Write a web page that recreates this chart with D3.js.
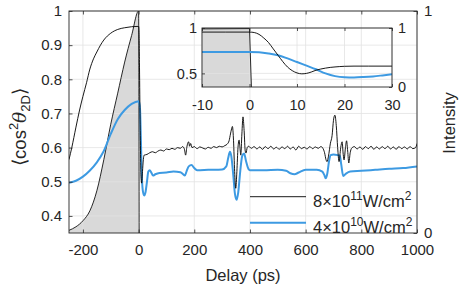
<!DOCTYPE html>
<html>
<head>
<meta charset="utf-8">
<script src="https://cdn.jsdelivr.net/npm/d3@7"></script>
<style>
body { margin: 0; background: #fff; }
text { font-family: "Liberation Sans", Arial, sans-serif; fill: #262626; }
</style>
</head>
<body>
<svg id="chart" width="463" height="289"></svg>
<script>
// ---- data ----
// pump intensity (gray, right axis)
var pulseT = [-250, -225, -200, -175, -150, -125, -100, -75, -50, -25, 0, 2];
var pulseI = [0.012, 0.028, 0.055, 0.10, 0.19, 0.33, 0.49, 0.63, 0.77, 0.89, 1.0, 0];

// 8x10^11 W/cm^2 (black)
var blackT = [-250, -240, -225, -212, -200, -187, -175, -162, -150, -137, -125, -100, -75, -50, -25, 0,
  1, 3, 5, 7, 9, 11, 14, 17, 20, 30, 40, 50, 60, 70, 80, 90, 100, 110, 120, 130, 140, 150, 158, 164, 169, 173, 177, 180, 183, 187, 192,
  200, 210, 220, 230, 240, 250, 260, 270, 280, 290, 300, 310, 318, 325, 330, 334, 337, 341, 345, 349, 353, 357, 361, 364, 367, 371, 375, 379, 383, 386, 390, 395,
  405, 415, 425, 435, 445, 455, 465, 475, 485, 495, 505, 515, 525, 535, 545, 555, 565, 575, 585, 595, 605, 615, 625, 635, 645, 655, 662, 668, 673, 677, 682, 689, 695,
  700, 705, 710, 715, 720, 726, 731, 735, 738, 743, 747, 751, 755, 760, 765, 775, 785, 795, 805, 815, 825, 835, 845, 855, 865, 875, 885, 895, 905, 915, 925, 935, 945, 955, 965, 975, 985, 995, 1000];
var blackV = [0.565, 0.60, 0.66, 0.71, 0.75, 0.79, 0.83, 0.86, 0.88, 0.90, 0.915, 0.935, 0.946, 0.951, 0.954, 0.955,
  0.95, 0.85, 0.70, 0.58, 0.51, 0.496, 0.53, 0.565, 0.578, 0.58, 0.585, 0.588, 0.585, 0.59, 0.593, 0.59, 0.596, 0.594, 0.598, 0.595, 0.60, 0.598, 0.603, 0.597, 0.578, 0.60, 0.614, 0.617, 0.604, 0.612, 0.60,
  0.603, 0.597, 0.602, 0.599, 0.596, 0.601, 0.598, 0.603, 0.60, 0.604, 0.602, 0.606, 0.61, 0.62, 0.64, 0.655, 0.662, 0.62, 0.53, 0.481, 0.53, 0.60, 0.622, 0.60, 0.578, 0.64, 0.69, 0.65, 0.59, 0.584, 0.60, 0.604,
  0.598, 0.603, 0.596, 0.602, 0.595, 0.603, 0.597, 0.604, 0.596, 0.601, 0.595, 0.602, 0.597, 0.604, 0.596, 0.602, 0.593, 0.604, 0.597, 0.601, 0.596, 0.603, 0.597, 0.602, 0.598, 0.603, 0.598, 0.585, 0.565, 0.559, 0.575, 0.613, 0.635,
  0.68, 0.695, 0.665, 0.60, 0.559, 0.60, 0.617, 0.58, 0.564, 0.60, 0.62, 0.59, 0.555, 0.585, 0.598, 0.603, 0.596, 0.602, 0.595, 0.603, 0.597, 0.604, 0.595, 0.602, 0.596, 0.603, 0.597, 0.604, 0.596, 0.602, 0.595, 0.603, 0.597, 0.602, 0.596, 0.603, 0.597, 0.60, 0.612];

// 4x10^10 W/cm^2 (blue)
var blueT = [-250, -225, -200, -175, -150, -125, -100, -75, -50, -25, 0,
  2, 5, 8, 11, 15, 20, 25, 30, 35, 40, 45, 52, 60, 75, 100, 125, 150, 160, 166, 172, 180, 190, 200, 210, 250, 300, 315, 322, 328, 333, 340, 346, 352, 358, 365, 372, 379, 386, 395,
  400, 450, 500, 530, 545, 560, 575, 600, 640, 660, 667, 672, 678, 684, 690, 700, 715, 723, 728, 735, 745, 760, 800, 850, 900, 950, 1000];
var blueV = [0.497, 0.503, 0.515, 0.533, 0.557, 0.59, 0.64, 0.683, 0.71, 0.728, 0.736,
  0.733, 0.715, 0.63, 0.53, 0.475, 0.46, 0.47, 0.50, 0.53, 0.534, 0.528, 0.518, 0.522, 0.526, 0.527, 0.53, 0.528, 0.522, 0.518, 0.53, 0.545, 0.549, 0.54, 0.534, 0.535, 0.536, 0.545, 0.57, 0.588, 0.575, 0.52, 0.465, 0.447, 0.47, 0.53, 0.575, 0.583, 0.56, 0.537,
  0.534, 0.534, 0.535, 0.532, 0.525, 0.522, 0.527, 0.535, 0.535, 0.53, 0.52, 0.51, 0.525, 0.56, 0.578, 0.58, 0.578, 0.576, 0.55, 0.517, 0.524, 0.53, 0.532, 0.535, 0.538, 0.54, 0.545];

// inset (-10 .. 30 ps)
var insetPulseT = [-10, 0, 0.4];
var insetPulseI = [0.985, 0.99, 0];
var insetBlackT = [-10, -5, 0, 1, 2, 3, 4, 5, 6, 7, 8, 9, 10, 11, 12, 13, 14, 15, 16, 17, 18, 19, 20, 22, 25, 30];
var insetBlackV = [0.955, 0.955, 0.955, 0.95, 0.93, 0.89, 0.84, 0.77, 0.70, 0.63, 0.57, 0.53, 0.505, 0.495, 0.50, 0.515, 0.535, 0.548, 0.558, 0.566, 0.571, 0.575, 0.578, 0.58, 0.58, 0.58];
var insetBlueT = [-10, 0, 2, 4, 6, 8, 10, 12, 14, 16, 18, 20, 22, 24, 26, 28, 30];
var insetBlueV = [0.736, 0.736, 0.733, 0.72, 0.70, 0.665, 0.625, 0.585, 0.545, 0.50, 0.47, 0.458, 0.456, 0.46, 0.467, 0.478, 0.49];

var xTicks = [-200, 0, 200, 400, 600, 800, 1000];
var yTicks = [0.4, 0.5, 0.6, 0.7, 0.8, 0.9, 1];
var inXTicks = [-10, 0, 10, 20, 30];
var inYTicks = [0.5, 1];
var intTicks = [0, 1];

var legendLabels = [["8\u00d710", "11", "W/cm", "2"], ["4\u00d710", "10", "W/cm", "2"]];
var blue = "#3d9ae2";
var axisColor = "#262626";
var gridColor = "#e2e2e2";

function zip(t, v) { return t.map(function (d, i) { return [d, v[i]]; }); }

var svg = d3.select("#chart");

// ---- main axes ----
var x = d3.scaleLinear().domain([-250, 1000]).range([69, 417]);
var y = d3.scaleLinear().domain([0.35, 1]).range([233, 11]);
var yI = d3.scaleLinear().domain([0, 1]).range([233, 11]);

svg.append("clipPath").attr("id", "mainClip").append("rect")
  .attr("x", 69).attr("y", 11).attr("width", 348).attr("height", 222);

// pulse fill
svg.append("path")
  .datum(zip(pulseT, pulseI))
  .attr("clip-path", "url(#mainClip)")
  .attr("fill", "#d9d9d9")
  .attr("d", d3.area().x(function (d) { return x(d[0]); }).y0(yI(0)).y1(function (d) { return yI(d[1]); }).curve(d3.curveMonotoneX));

// grid
svg.append("g").selectAll("line").data(xTicks).enter().append("line")
  .attr("x1", function (d) { return x(d); }).attr("x2", function (d) { return x(d); })
  .attr("y1", 11).attr("y2", 233).attr("stroke", gridColor).attr("stroke-width", 0.8);
svg.append("g").selectAll("line").data(yTicks).enter().append("line")
  .attr("y1", function (d) { return y(d); }).attr("y2", function (d) { return y(d); })
  .attr("x1", 69).attr("x2", 417).attr("stroke", gridColor).attr("stroke-width", 0.8);

// pulse outline
svg.append("path")
  .datum(zip(pulseT, pulseI))
  .attr("clip-path", "url(#mainClip)")
  .attr("fill", "none").attr("stroke", "#111").attr("stroke-width", 0.9)
  .attr("d", d3.line().x(function (d) { return x(d[0]); }).y(function (d) { return yI(d[1]); }).curve(d3.curveMonotoneX));

var lineMain = d3.line().x(function (d) { return x(d[0]); }).y(function (d) { return y(d[1]); }).curve(d3.curveMonotoneX);

svg.append("path").datum(zip(blueT, blueV))
  .attr("clip-path", "url(#mainClip)")
  .attr("fill", "none").attr("stroke", blue).attr("stroke-width", 2)
  .attr("d", lineMain);
svg.append("path").datum(zip(blackT, blackV))
  .attr("clip-path", "url(#mainClip)")
  .attr("fill", "none").attr("stroke", "#000").attr("stroke-width", 0.9)
  .attr("d", lineMain);

function styleAxis(g, size) {
  g.select(".domain").remove();
  g.selectAll(".tick line").attr("stroke", axisColor).attr("stroke-width", 0.8);
  g.selectAll(".tick text").attr("font-size", size).attr("fill", axisColor)
    .style("font-family", '"Liberation Sans", Arial, sans-serif');
}
var fmt = function (d) { return String(+d.toFixed(2)); };

svg.append("g").attr("transform", "translate(0,233)")
  .call(d3.axisBottom(x).tickValues(xTicks).tickSize(-3.5).tickPadding(11).tickFormat(fmt))
  .call(styleAxis, 15);
svg.append("g").attr("transform", "translate(0,11)")
  .call(d3.axisTop(x).tickValues(xTicks).tickSize(-3.5).tickFormat(""))
  .call(styleAxis, 15);
svg.append("g").attr("transform", "translate(69,0)")
  .call(d3.axisLeft(y).tickValues(yTicks).tickSize(-3.5).tickPadding(7).tickFormat(fmt))
  .call(styleAxis, 15);
svg.append("g").attr("transform", "translate(417,0)")
  .call(d3.axisRight(yI).tickValues(intTicks).tickSize(-3.5).tickPadding(7).tickFormat(fmt))
  .call(styleAxis, 15);

svg.append("rect").attr("x", 69).attr("y", 11).attr("width", 348).attr("height", 222)
  .attr("fill", "none").attr("stroke", axisColor).attr("stroke-width", 0.9);

// ---- inset ----
var ix = d3.scaleLinear().domain([-10, 30]).range([202, 392]);
var iy = d3.scaleLinear().domain([0.35, 1]).range([87, 28]);
var iI = d3.scaleLinear().domain([0, 1]).range([87, 28]);

svg.append("clipPath").attr("id", "insetClip").append("rect")
  .attr("x", 202).attr("y", 28).attr("width", 190).attr("height", 59);

svg.append("path").datum(zip(insetPulseT, insetPulseI))
  .attr("clip-path", "url(#insetClip)")
  .attr("fill", "#d9d9d9")
  .attr("d", d3.area().x(function (d) { return ix(d[0]); }).y0(iI(0)).y1(function (d) { return iI(d[1]); }));

svg.append("g").selectAll("line").data(inXTicks).enter().append("line")
  .attr("x1", function (d) { return ix(d); }).attr("x2", function (d) { return ix(d); })
  .attr("y1", 28).attr("y2", 87).attr("stroke", gridColor).attr("stroke-width", 0.8);
svg.append("g").selectAll("line").data(inYTicks).enter().append("line")
  .attr("y1", function (d) { return iy(d); }).attr("y2", function (d) { return iy(d); })
  .attr("x1", 202).attr("x2", 392).attr("stroke", gridColor).attr("stroke-width", 0.8);

svg.append("path").datum(zip(insetPulseT, insetPulseI))
  .attr("clip-path", "url(#insetClip)")
  .attr("fill", "none").attr("stroke", "#111").attr("stroke-width", 0.9)
  .attr("d", d3.line().x(function (d) { return ix(d[0]); }).y(function (d) { return iI(d[1]); }));

var lineInset = d3.line().x(function (d) { return ix(d[0]); }).y(function (d) { return iy(d[1]); }).curve(d3.curveMonotoneX);
svg.append("path").datum(zip(insetBlueT, insetBlueV))
  .attr("clip-path", "url(#insetClip)")
  .attr("fill", "none").attr("stroke", blue).attr("stroke-width", 2)
  .attr("d", lineInset);
svg.append("path").datum(zip(insetBlackT, insetBlackV))
  .attr("clip-path", "url(#insetClip)")
  .attr("fill", "none").attr("stroke", "#000").attr("stroke-width", 0.9)
  .attr("d", lineInset);

svg.append("g").attr("transform", "translate(0,87)")
  .call(d3.axisBottom(ix).tickValues(inXTicks).tickSize(-3).tickPadding(13).tickFormat(fmt))
  .call(styleAxis, 14.5);
svg.append("g").attr("transform", "translate(0,28)")
  .call(d3.axisTop(ix).tickValues(inXTicks).tickSize(-3).tickFormat(""))
  .call(styleAxis, 14.5);
svg.append("g").attr("transform", "translate(202,0)")
  .call(d3.axisLeft(iy).tickValues(inYTicks).tickSize(-3).tickPadding(5).tickFormat(fmt))
  .call(styleAxis, 14.5);
svg.append("g").attr("transform", "translate(392,0)")
  .call(d3.axisRight(iI).tickValues(intTicks).tickSize(-3).tickPadding(6).tickFormat(fmt))
  .call(styleAxis, 14.5);

svg.append("rect").attr("x", 202).attr("y", 28).attr("width", 190).attr("height", 59)
  .attr("fill", "none").attr("stroke", axisColor).attr("stroke-width", 0.9);

// ---- legend ----
var legY = [196.7, 222.7];
var legColors = ["#000", blue];
var legWidths = [0.9, 2];
legendLabels.forEach(function (lab, i) {
  svg.append("line").attr("x1", 250).attr("x2", 306).attr("y1", legY[i]).attr("y2", legY[i])
    .attr("stroke", legColors[i]).attr("stroke-width", legWidths[i]);
  var t = svg.append("text").attr("x", 313).attr("y", legY[i] + 10.5).attr("font-size", 16.5);
  t.append("tspan").text(lab[0]);
  t.append("tspan").attr("font-size", 12).attr("dy", -7).text(lab[1]);
  t.append("tspan").attr("dy", 7).text(lab[2]);
  t.append("tspan").attr("font-size", 12).attr("dy", -7).text(lab[3]);
});

// ---- axis labels ----
svg.append("text").attr("x", 243).attr("y", 281).attr("text-anchor", "middle")
  .attr("font-size", 16.5).text("Delay (ps)");

svg.append("text").attr("transform", "translate(455,123) rotate(-90)")
  .attr("text-anchor", "middle").attr("font-size", 16.5).text("Intensity");

var yl = svg.append("text").attr("transform", "translate(26,127) rotate(-90)")
  .attr("text-anchor", "middle").attr("font-size", 18.5);
yl.append("tspan").text("\u27e8cos");
yl.append("tspan").attr("font-size", 13).attr("dy", -8).text("2");
yl.append("tspan").attr("dy", 8).attr("font-style", "italic").style("font-family", '"DejaVu Serif", serif').text("\u03b8");
yl.append("tspan").attr("font-size", 13).attr("dy", 4).text("2D");
yl.append("tspan").attr("dy", -4).text("\u27e9");
</script>
</body>
</html>
